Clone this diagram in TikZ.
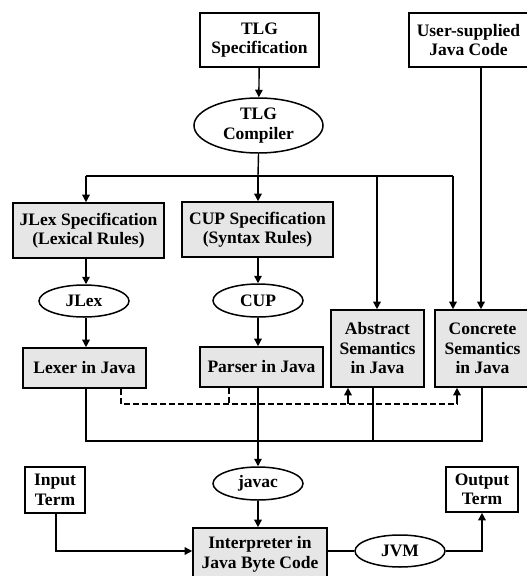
\documentclass[tikz,border=0pt]{standalone}
\usepackage{fontspec}
\setmainfont{Liberation Serif}
\usetikzlibrary{arrows.meta,shapes.geometric}
\definecolor{boxgray}{RGB}{230,230,230}
\newcommand{\lab}{\bfseries\fontsize{17.5}{19.5}\selectfont}
\begin{document}
\begin{tikzpicture}[x=1pt,y=-1pt,
  box/.style={draw,line width=1.6pt,inner sep=0pt,align=center,font=\lab},
  gbox/.style={box,fill=boxgray},
  oval/.style={ellipse,draw,line width=1.5pt,inner sep=0pt,align=center,font=\lab},
  conn/.style={line width=1.4pt},
  arr/.style={conn,-{Triangle[length=7.5pt,width=7.5pt]}},
  dsh/.style={line width=1.9pt,dash pattern=on 6pt off 3pt}]
\useasboundingbox (0,0) rectangle (527,576);
% nodes
\node[box,minimum width=119pt,minimum height=54pt] (spec) at (259.5,40) {TLG\\Specification};
\node[box,minimum width=119pt,minimum height=54pt] (user) at (468.5,40) {User-supplied\\Java Code};
\node[oval,minimum width=129pt,minimum height=55pt] (comp) at (258.5,125.5) {TLG\\Compiler};
\node[gbox,minimum width=151pt,minimum height=55pt] (jspec) at (88.5,230.5) {JLex Specification\\(Lexical Rules)};
\node[gbox,minimum width=151pt,minimum height=55pt] (cspec) at (257.5,229.5) {CUP Specification\\(Syntax Rules)};
\node[oval,minimum width=90pt,minimum height=32pt] (jlex) at (84,301) {JLex};
\node[oval,minimum width=90pt,minimum height=33pt] (cup) at (258,300.5) {CUP};
\node[gbox,minimum width=123pt,minimum height=40pt] (lexer) at (84.5,368) {Lexer in Java};
\node[gbox,minimum width=123pt,minimum height=40pt] (parser) at (261.5,367) {Parser in Java};
\node[gbox,minimum width=93pt,minimum height=77pt] (abs) at (377.5,348.5) {Abstract\\Semantics\\in Java};
\node[gbox,minimum width=95pt,minimum height=77pt] (conc) at (482.5,348.5) {Concrete\\Semantics\\in Java};
\node[oval,minimum width=90pt,minimum height=33pt] (javac) at (258,483.5) {javac};
\node[box,minimum width=60pt,minimum height=46pt] (input) at (55,490) {Input\\Term};
\node[box,minimum width=72pt,minimum height=45pt] (output) at (482,489.5) {Output\\Term};
\node[gbox,minimum width=134pt,minimum height=53pt] (interp) at (260,554.5) {Interpreter in\\Java Byte Code};
\node[oval,minimum width=90pt,minimum height=32pt] (jvm) at (400,551) {JVM};
% helper coordinates
\coordinate (t1) at (86,176);
\coordinate (t2) at (258,176);
\coordinate (t3) at (377,176);
\coordinate (t4) at (453,176);
\coordinate (u) at (481,67);
\coordinate (d1) at (121,404);
\coordinate (d2) at (229,404);
\coordinate (d3) at (348,404);
\coordinate (d4) at (457,404);
\coordinate (s1) at (86,441);
\coordinate (s2) at (482,441);
\coordinate (s3) at (373,441);
\coordinate (i1) at (56,551);
\coordinate (o1) at (482,551);
% connectors
\draw[arr] (spec) -- (comp);
\draw[conn] (comp.south) -- (t2);
\draw[conn] (t1) -- (t4);
\draw[arr] (t1) -- (jspec.north -| t1);
\draw[arr] (t2) -- (cspec.north -| t2);
\draw[arr] (t3) -- (abs.north -| t3);
\draw[arr] (t4) -- (conc.north -| t4);
\draw[arr] (user.south -| u) -- (conc.north -| u);
\draw[arr] (jspec.south -| t1) -- (jlex.north -| t1);
\draw[arr] (jlex.south -| t1) -- (lexer.north -| t1);
\draw[arr] (cspec.south -| t2) -- (cup.north -| t2);
\draw[arr] (cup.south -| t2) -- (parser.north -| t2);
% dashed
\draw[dsh] (lexer.south -| d1) -- (d1) -- (d4);
\draw[dsh] (parser.south -| d2) -- (d2);
\draw[arr] (d3) -- (abs.south -| d3);
\draw[arr] (d4) -- (conc.south -| d4);
% solid bus
\draw[conn] (lexer.south -| s1) -- (s1) -- (s2) -- (conc.south -| s2);
\draw[conn] (abs.south -| s3) -- (s3);
\draw[arr] (parser.south -| javac.north) -- (javac.north);
\draw[arr] (javac.south) -- (interp.north -| javac.south);
\draw[arr] (input.south -| i1) -- (i1) -- (interp.west |- i1);
\draw[conn] (interp.east |- jvm) -- (jvm.west);
\draw[arr] (jvm.east) -- (o1) -- (output.south -| o1);
\end{tikzpicture}
\end{document}
